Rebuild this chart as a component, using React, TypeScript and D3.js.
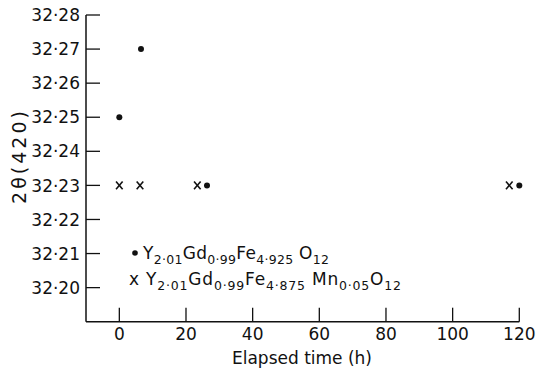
import React from "react";
import * as d3 from "d3";

const circleTimes = [0, 6.5, 26.3, 120];
const circleValues = [32.25, 32.27, 32.23, 32.23];
const crossTimes = [0, 6.2, 23.4, 117];
const crossValues = [32.23, 32.23, 32.23, 32.23];
const xTicks = [0, 20, 40, 60, 80, 100, 120];
const yTicks = [32.2, 32.21, 32.22, 32.23, 32.24, 32.25, 32.26, 32.27, 32.28];
const yTickLabels = ["32·20", "32·21", "32·22", "32·23", "32·24", "32·25", "32·26", "32·27", "32·28"];

const FONT = "DejaVu Sans, sans-serif";

export default function App() {
  const x = d3.scaleLinear().domain([-10, 120]).range([86, 519.3]);
  const y = d3.scaleLinear().domain([32.19, 32.28]).range([321.7, 15]);
  const x0 = x(-10);
  const yBottom = y(32.19);
  const tickLen = 14;
  const sub = (t: string) => (
    <tspan fontSize={12.5} dy={5}>{t}</tspan>
  );
  const main = (t: string) => (
    <tspan fontSize={17} dy={-5}>{t}</tspan>
  );
  return (
    <svg width={545} height={370} style={{ position: "absolute", left: 0, top: 0, background: "#fff" }} fontFamily={FONT}>
      <rect width={545} height={370} fill="#fff" />
      {/* axes */}
      <line x1={x0} x2={x0} y1={y(32.28)} y2={yBottom} stroke="#111" strokeWidth={1.5} />
      <line x1={x0} x2={x(120)} y1={yBottom} y2={yBottom} stroke="#111" strokeWidth={1.5} />
      {yTicks.map((t, i) => (
        <g key={"y" + i}>
          <line x1={x0} x2={x0 + tickLen} y1={y(t)} y2={y(t)} stroke="#111" strokeWidth={1.3} />
          <text x={80} y={y(t)} dy="0.36em" textAnchor="end" fontSize={17} fill="#111">{yTickLabels[i]}</text>
        </g>
      ))}
      {xTicks.map((t) => (
        <g key={"x" + t}>
          <line x1={x(t)} x2={x(t)} y1={yBottom} y2={yBottom - tickLen} stroke="#111" strokeWidth={1.3} />
          <text x={x(t)} y={340} textAnchor="middle" fontSize={17} fill="#111">{t}</text>
        </g>
      ))}
      <text x={302} y={364} textAnchor="middle" fontSize={17} fill="#111">Elapsed time (h)</text>
      <text transform={`translate(26,156) rotate(-90)`} textAnchor="middle" fontSize={19} letterSpacing={3} fill="#111">2θ(420)</text>
      {/* data */}
      {circleTimes.map((t, i) => (
        <circle key={"c" + i} cx={x(t)} cy={y(circleValues[i])} r={3} fill="#111" />
      ))}
      {crossTimes.map((t, i) => (
        <g key={"k" + i} transform={`translate(${x(t)},${y(crossValues[i])})`} stroke="#111" strokeWidth={1.6}>
          <line x1={-3.3} y1={-3.8} x2={3.3} y2={3.8} />
          <line x1={-3.3} y1={3.8} x2={3.3} y2={-3.8} />
        </g>
      ))}
      {/* legend */}
      <circle cx={135} cy={253} r={2.8} fill="#111" />
      <text x={143} y={259} fill="#111" textLength={186} lengthAdjust="spacing">
        <tspan fontSize={17}>Y</tspan>{sub("2·01")}{main("Gd")}{sub("0·99")}{main("Fe")}{sub("4·925")}{main(" O")}{sub("12")}
      </text>
      <text x={129} y={285} fill="#111" textLength={272} lengthAdjust="spacing">
        <tspan fontSize={17}>x Y</tspan>{sub("2·01")}{main("Gd")}{sub("0·99")}{main("Fe")}{sub("4·875")}{main(" Mn")}{sub("0·05")}{main("O")}{sub("12")}
      </text>
    </svg>
  );
}
